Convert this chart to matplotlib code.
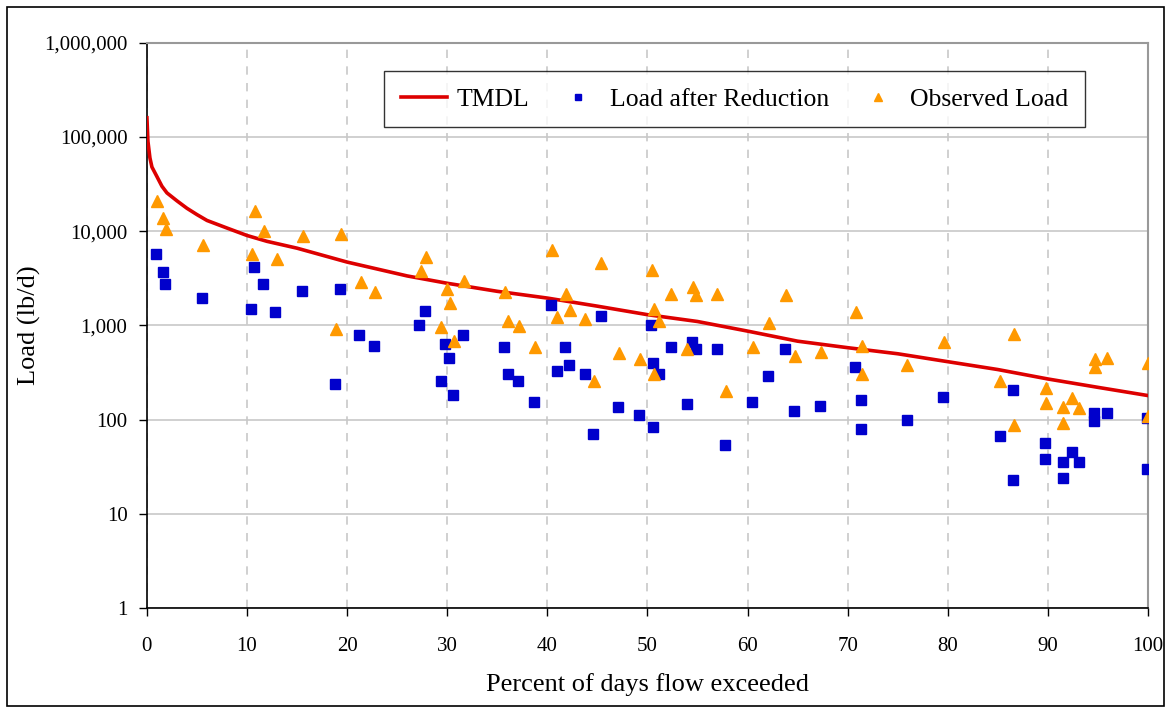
import matplotlib.pyplot as plt
from matplotlib.patches import Rectangle
from matplotlib.ticker import FuncFormatter

# TMDL curve (percent of days, lb/d)
tmdl_pct = [0, 0.1, 0.3, 0.5, 1.0, 1.5, 2.0, 3.0, 4.0, 5.0, 6.0, 8.0, 10.0, 12.0,
            15.0, 20.0, 26.0, 30.0, 35.0, 40.0, 45.0, 50.0, 55.0, 60.0, 65.0,
            70.0, 75.0, 79.5, 85.0, 90.0, 95.0, 100.0]
tmdl_load = [160000, 90000, 60000, 48000, 38000, 30000, 25500, 21000, 17500, 15000,
             13000, 10800, 9000, 7800, 6600, 4700, 3350, 2800, 2300, 1950, 1600,
             1300, 1100, 870, 680, 580, 500, 420, 340, 270, 220, 180]

# Load after reduction (blue squares)
red_pct = [0.9, 1.57, 1.77, 5.49, 10.36, 10.69, 11.62, 12.82, 15.48, 18.81, 19.31,
           21.21, 22.68, 27.22, 27.74, 29.34, 29.80, 30.20, 30.54, 31.60, 35.66,
           36.03, 37.06, 38.66, 40.39, 40.93, 41.79, 42.16, 43.73, 44.59, 45.33,
           47.08, 49.18, 50.38, 50.58, 50.58, 51.12, 52.32, 54.45, 54.85, 53.92,
           56.91, 57.77, 60.41, 62.01, 63.77, 64.64, 67.23, 70.76, 71.30, 71.30,
           75.89, 79.55, 85.18, 86.54, 86.54, 89.74, 89.74, 91.48, 91.48, 92.38,
           93.08, 94.64, 94.64, 95.87, 99.9, 99.9]
red_load = [5740, 3725, 2760, 1945, 1497, 4210, 2760, 1380, 2307, 237, 2423,
            787, 606, 1020, 1436, 259, 636, 448, 181, 787, 587,
            305, 255, 154, 1638, 331, 587, 378, 305, 70.4, 1262,
            135, 113, 1020, 397, 84, 305, 587, 668, 559, 147,
            559, 54.2, 153, 293, 559, 124, 141, 362, 161, 80,
            99, 174, 67.6, 208, 23, 56.5, 38.5, 35.3, 24, 45.7,
            35.3, 118.5, 97.5, 118.5, 103, 30]

# Observed load (orange triangles)
obs_pct = [0.97, 1.63, 1.90, 5.56, 10.82, 10.49, 11.69, 12.96, 15.55, 19.41, 18.88,
           21.35, 22.75, 27.87, 27.34, 29.94, 30.27, 29.40, 30.67, 31.67, 35.73,
           36.06, 37.13, 38.73, 40.46, 40.99, 41.86, 42.26, 43.79, 44.69, 45.38,
           47.18, 49.25, 50.45, 50.65, 51.18, 50.65, 52.38, 54.52, 54.85, 53.98,
           56.97, 57.84, 60.51, 62.11, 63.84, 64.74, 67.36, 70.83, 71.43, 71.43,
           75.96, 79.65, 85.21, 86.64, 86.61, 89.81, 89.81, 91.54, 91.54, 92.44,
           93.14, 94.74, 94.74, 95.94, 100, 100]
obs_load = [21150, 13750, 10500, 7160, 16560, 5740, 10160, 5080, 8920, 9370, 911,
            2897, 2250, 5380, 3760, 2423, 1746, 957, 676, 2990, 2268,
            1124, 988, 587, 6340, 1222, 2160, 1460, 1164, 259, 4645,
            514, 437, 3882, 1507, 1124, 305, 2160, 2583, 2092, 567,
            2160, 200, 587, 1071, 2124, 474, 519, 1380, 606, 305,
            380, 673, 259, 806, 87.7, 217, 149, 137, 93, 171,
            132, 437, 360, 455, 397, 108]

plt.rcParams['font.family'] = ['Liberation Serif', 'DejaVu Serif']

fig = plt.figure(figsize=(11.66, 7.07), dpi=100)
ax = fig.add_axes([0.126, 0.14, 0.8585, 0.7995])

# Outer chart border
fig.patches.append(Rectangle((7 / 1166, 0.002), 1157 / 1166, 1 - 7 / 707 - 0.002,
                             transform=fig.transFigure, fill=False,
                             edgecolor='black', linewidth=1.2))

ax.plot(tmdl_pct, tmdl_load, color='#DD0000', linewidth=2.6, label='TMDL', zorder=3)
ax.plot(red_pct, red_load, linestyle='', marker='s', markersize=6.5,
        color='#0000CC', label='Load after Reduction', zorder=4)
ax.plot(obs_pct, obs_load, linestyle='', marker='^', markersize=9,
        color='#FF9900', label='Observed Load', zorder=5)

ax.set_yscale('log')
ax.set_ylim(1, 1e6)
ax.set_xlim(0, 100)
ax.set_xticks(range(0, 101, 10))
ax.set_yticks([1, 10, 100, 1000, 10000, 100000, 1000000])
ax.yaxis.set_minor_locator(plt.NullLocator())
ax.yaxis.set_major_formatter(FuncFormatter(lambda v, p: f'{int(round(v)):,}'))

# Grid: solid horizontal, dashed vertical
ax.grid(axis='y', color='#c8c8c8', linewidth=1.2, linestyle='-')
ax.grid(axis='x', color='#c8c8c8', linewidth=1.2, linestyle=(0, (5, 5)))
ax.set_axisbelow(True)

for side in ['top', 'right']:
    ax.spines[side].set_color('#999999')
    ax.spines[side].set_linewidth(1.5)
for side in ['left', 'bottom']:
    ax.spines[side].set_color('black')
    ax.spines[side].set_linewidth(1.2)

ax.tick_params(axis='both', labelsize=15, length=6, width=1, direction='out',
               colors='black', pad=8)
ax.tick_params(axis='x', pad=15)

ax.set_xlabel('Percent of days flow exceeded', fontsize=19, labelpad=12)
ax.set_ylabel('Load (lb/d)', fontsize=19, labelpad=2)

leg = ax.legend(loc='center', bbox_to_anchor=(0.587, 0.9), ncol=3, fontsize=18.5,
                frameon=True, fancybox=False, edgecolor='black',
                handlelength=1.8, columnspacing=1.0, handletextpad=0.35,
                borderpad=0.65, markerscale=0.7)
leg.get_frame().set_linewidth(1.0)

fig.savefig('out.png', dpi=100)
